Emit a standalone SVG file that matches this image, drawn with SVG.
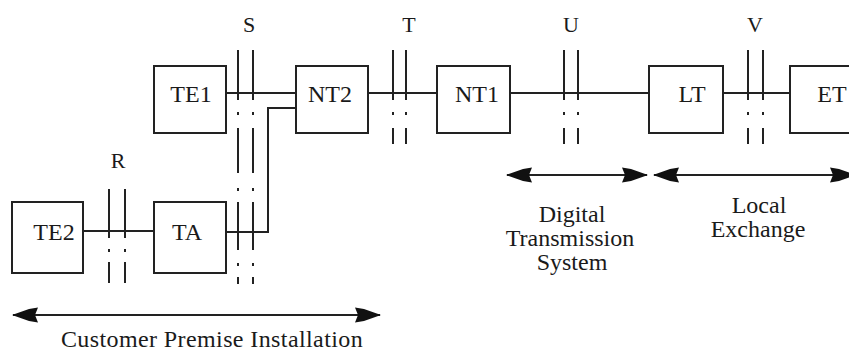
<svg xmlns="http://www.w3.org/2000/svg" width="849" height="352" viewBox="0 0 849 352">
<style>
  .box { fill: #fff; stroke: #222; stroke-width: 2; }
  .lbl { font-family: 'Liberation Serif', 'DejaVu Serif', serif; font-size: 24px; fill: #1a1a1a; text-anchor: middle; }
  .ref { font-family: 'Liberation Serif', 'DejaVu Serif', serif; font-size: 22px; fill: #1a1a1a; text-anchor: middle; }
  .wire { fill: none; stroke: #222; stroke-width: 2; }
  .ifc { fill: none; stroke: #222; stroke-width: 2; }
</style>
<defs>
  <marker id="ah" viewBox="0 -8 26 16" refX="25" refY="0" markerWidth="26" markerHeight="16" markerUnits="userSpaceOnUse" orient="auto-start-reverse">
    <path d="M26,0 L9,-6 L0,-7.5 L3,0 L0,7.5 L9,6 Z" fill="#111"/>
  </marker>
</defs>
<rect width="849" height="352" fill="#fff"/>

<g id="connectors">
  <path class="wire" d="M226,93 H296"/>
  <path class="wire" d="M368,93 H437"/>
  <path class="wire" d="M510,93 H649"/>
  <path class="wire" d="M723,93 H790"/>
  <path class="wire" d="M83,231 H154"/>
  <path class="wire" d="M226,232 H268 V108 H296"/>
  <path class="wire" d="M13,315 H380" marker-start="url(#ah)" marker-end="url(#ah)"/>
  <path class="wire" d="M507,175 H647" marker-start="url(#ah)" marker-end="url(#ah)"/>
  <path class="wire" d="M654,175 H855" marker-start="url(#ah)" marker-end="url(#ah)"/>
</g>

<g id="ref-S">
  <path class="ifc" d="M238,50 V100 M238,112 V115 M238,128 V173 M238,188 V191 M238,202 V250 M238,263 V266 M238,277 V284 M253,50 V100 M253,112 V115 M253,128 V173 M253,188 V191 M253,202 V250 M253,263 V266 M253,277 V284"/>
  <text class="ref" x="249" y="32">S</text>
</g>
<g id="ref-T">
  <path class="ifc" d="M393,50 V100 M393,112 V115 M393,128 V144 M406,50 V100 M406,112 V115 M406,128 V144"/>
  <text class="ref" x="409" y="32">T</text>
</g>
<g id="ref-U">
  <path class="ifc" d="M564,50 V100 M564,112 V115 M564,128 V144 M578,50 V100 M578,112 V115 M578,128 V144"/>
  <text class="ref" x="571" y="32">U</text>
</g>
<g id="ref-V">
  <path class="ifc" d="M748,50 V100 M748,112 V115 M748,128 V144 M763,50 V100 M763,112 V115 M763,128 V144"/>
  <text class="ref" x="755" y="32">V</text>
</g>
<g id="ref-R">
  <path class="ifc" d="M109,189 V238 M109,249 V252 M109,262 V283 M125,189 V238 M125,249 V252 M125,262 V283"/>
  <text class="ref" x="118" y="168">R</text>
</g>

<g id="TE1">
  <rect class="box" x="154" y="66" width="72" height="67"/>
  <text class="lbl" x="191" y="102">TE1</text>
</g>
<g id="NT2">
  <rect class="box" x="296" y="66" width="72" height="67"/>
  <text class="lbl" x="330" y="102">NT2</text>
</g>
<g id="NT1">
  <rect class="box" x="437" y="66" width="73" height="67"/>
  <text class="lbl" x="477" y="102">NT1</text>
</g>
<g id="LT">
  <rect class="box" x="649" y="66" width="74" height="67"/>
  <text class="lbl" x="692" y="102">LT</text>
</g>
<g id="ET">
  <rect class="box" x="790" y="66" width="80" height="67"/>
  <text class="lbl" x="832" y="102">ET</text>
</g>
<g id="TE2">
  <rect class="box" x="12" y="202" width="71" height="71"/>
  <text class="lbl" x="54" y="240">TE2</text>
</g>
<g id="TA">
  <rect class="box" x="154" y="202" width="72" height="71"/>
  <text class="lbl" x="187" y="240">TA</text>
</g>

<g id="label-dts">
  <text class="lbl" x="572" y="222">Digital</text>
  <text class="lbl" x="570" y="246">Transmission</text>
  <text class="lbl" x="572" y="270">System</text>
</g>
<g id="label-le">
  <text class="lbl" x="759" y="213">Local</text>
  <text class="lbl" x="758" y="237">Exchange</text>
</g>
<g id="label-cpi">
  <text class="lbl" x="212" y="347" letter-spacing="0.4">Customer Premise Installation</text>
</g>
</svg>
